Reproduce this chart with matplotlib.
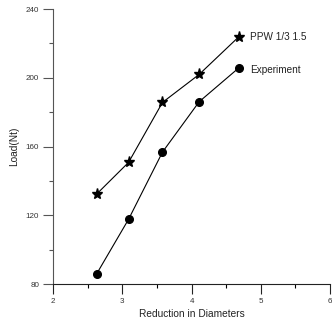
import matplotlib
matplotlib.use('Agg')
import matplotlib.pyplot as plt
from matplotlib.ticker import MultipleLocator

plt.rcParams['font.family'] = ['Liberation Sans', 'DejaVu Sans']

# data
reduction = [2.63, 3.09, 3.58, 4.11, 4.68]
ppw_load = [132.4, 150.8, 185.7, 202.0, 223.8]
exp_load = [86.0, 117.7, 156.8, 186.1, 205.7]

fig = plt.figure(figsize=(3.32, 3.25), dpi=100)
ax = fig.add_axes([0.16, 0.126, 0.834, 0.846])

ax.plot(reduction, ppw_load, color='black', lw=0.8, marker='*', ms=8)
ax.plot(reduction, exp_load, color='black', lw=0.8, marker='o', ms=5.5)

# labels beside the last point of each series
ax.text(reduction[-1] + 0.16, ppw_load[-1], 'PPW 1/3 1.5', fontsize=7.2,
        va='center', color='#222222')
ax.text(reduction[-1] + 0.17, exp_load[-1] - 1, 'Experiment', fontsize=7.2,
        va='center', color='#222222')

ax.set_xlim(2, 6)
ax.set_ylim(80, 240)
ax.xaxis.set_major_locator(MultipleLocator(1))
ax.xaxis.set_minor_locator(MultipleLocator(0.5))
ax.yaxis.set_major_locator(MultipleLocator(40))
ax.yaxis.set_minor_locator(MultipleLocator(20))

for s in ['top', 'right']:
    ax.spines[s].set_visible(False)
ax.spines['left'].set_color('#555555')
ax.spines['bottom'].set_color('#222222')

ax.tick_params(which='major', direction='out', length=7, width=0.8,
               labelsize=5.8, labelcolor='#333333')
ax.tick_params(which='minor', direction='out', length=3, width=0.8)
ax.tick_params(axis='x', which='major', pad=3, colors='#222222', labelcolor='#333333')
ax.tick_params(axis='y', which='both', pad=3, colors='#555555')
ax.tick_params(axis='y', which='major', labelcolor='#333333')
ax.set_xlabel('Reduction in Diameters', fontsize=7.3, labelpad=3, color='#222222')
ax.set_ylabel('Load(Nt)', fontsize=7.3, labelpad=5, color='#222222')

plt.savefig('out.png', dpi=100)
